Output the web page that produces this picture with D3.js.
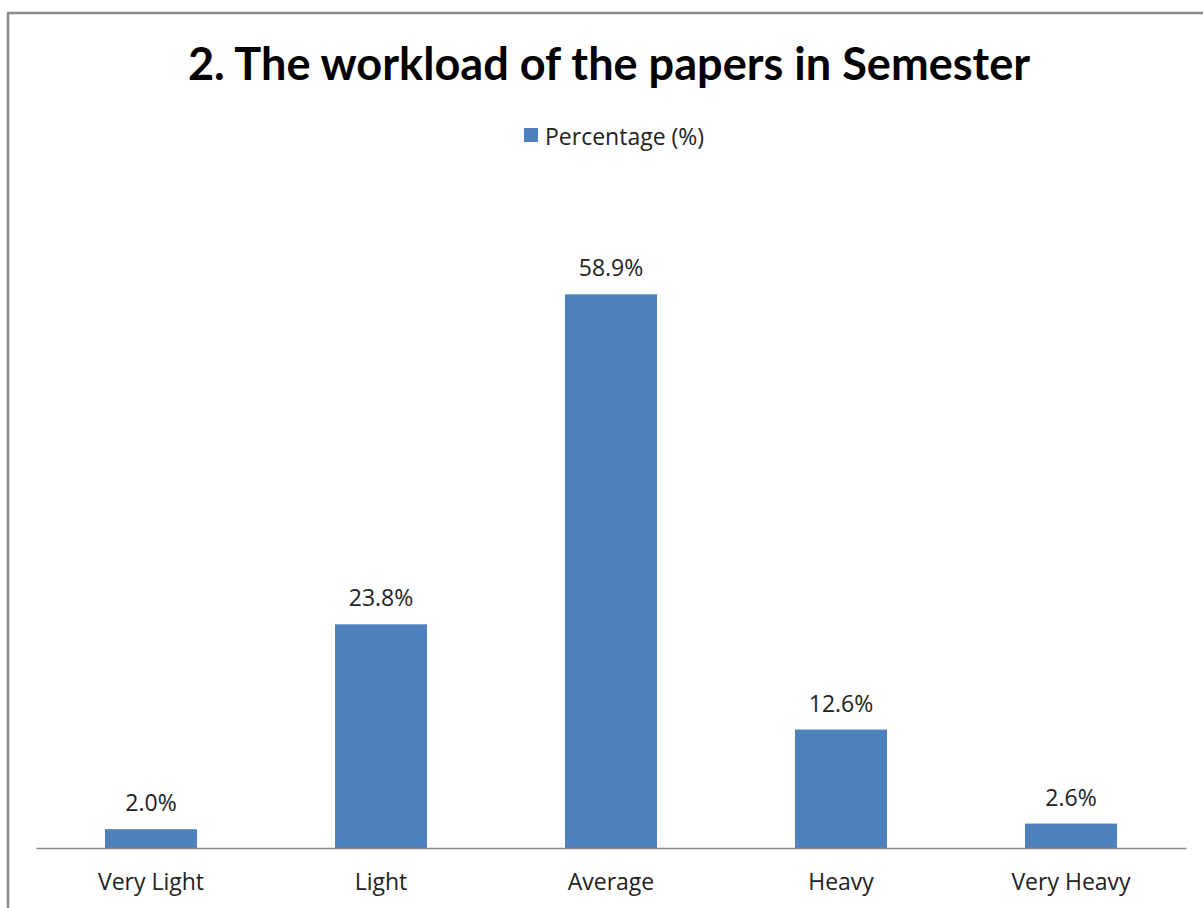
<!DOCTYPE html>
<html>
<head>
<meta charset="utf-8">
<script src="https://cdn.jsdelivr.net/npm/d3@7"></script>
<style>
  body { margin: 0; background: #fff; }
  svg { display: block; font-family: "Open Sans", sans-serif; }
</style>
</head>
<body>
<svg id="chart" width="1203" height="908"></svg>
<script>
const categories = ['Very Light', 'Light', 'Average', 'Heavy', 'Very Heavy'];
const percentages = [2.0, 23.8, 58.9, 12.6, 2.6];
const seriesName = 'Percentage (%)';
const title = '2. The workload of the papers in Semester';

const width = 1203, height = 908;
const labelFont = '"Open Sans", sans-serif';
const labelSize = '23px';
const svg = d3.select('#chart');

// outer frame (right/bottom edges fall outside the picture)
svg.append('rect')
  .attr('x', 8).attr('y', 13)
  .attr('width', width + 20).attr('height', height + 20)
  .attr('fill', 'none')
  .attr('stroke', '#8c8c8c')
  .attr('stroke-width', 2.5);

const x = d3.scaleBand()
  .domain(categories)
  .range([36, 1186])
  .paddingInner(0.6)
  .paddingOuter(0.3);

const y = d3.scaleLinear()
  .domain([0, 70])
  .range([848, 190]);

// title
const t = svg.append('text')
  .attr('x', 609).attr('y', 80)
  .attr('text-anchor', 'middle')
  .attr('font-weight', 'bold')
  .attr('fill', '#000')
  .style('font-family', 'Lato, sans-serif')
  .style('font-size', '40px')
  .text(title);
const tw = t.node().getComputedTextLength();
t.style('font-size', (40 * 842 / tw).toFixed(1) + 'px');

// legend
const legend = svg.append('g');
legend.append('rect')
  .attr('x', 524).attr('y', 128)
  .attr('width', 14).attr('height', 14)
  .attr('fill', '#4f81bd');
legend.append('text')
  .attr('x', 545).attr('y', 145)
  .attr('fill', '#222')
  .style('font-size', labelSize)
  .text(seriesName);

// bars
svg.selectAll('rect.bar')
  .data(percentages)
  .enter()
  .append('rect')
  .attr('class', 'bar')
  .attr('x', (d, i) => x(categories[i]))
  .attr('y', (d) => y(d))
  .attr('width', x.bandwidth())
  .attr('height', (d) => y(0) - y(d))
  .attr('fill', '#4f81bd');

// value labels
svg.selectAll('text.val')
  .data(percentages)
  .enter()
  .append('text')
  .attr('class', 'val')
  .attr('x', (d, i) => x(categories[i]) + x.bandwidth() / 2)
  .attr('y', (d) => y(d) - 18)
  .attr('text-anchor', 'middle')
  .attr('fill', '#222')
  .style('font-size', labelSize)
  .text((d) => d.toFixed(1) + '%');

// x axis
const xAxis = svg.append('g')
  .attr('transform', `translate(0,${y(0)})`)
  .call(d3.axisBottom(x).tickSize(0).tickSizeOuter(0));
xAxis.select('.domain').attr('stroke', '#868686').attr('stroke-width', 1.5);
xAxis.selectAll('text')
  .attr('dy', 0)
  .attr('y', 42)
  .attr('fill', '#222')
  .style('font-family', labelFont)
  .style('font-size', labelSize);
</script>
</body>
</html>
